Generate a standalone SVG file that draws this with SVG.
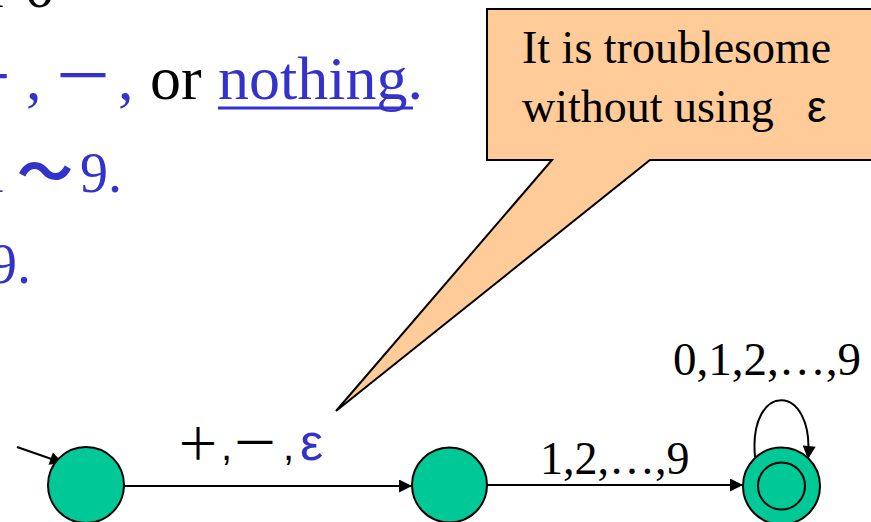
<svg xmlns="http://www.w3.org/2000/svg" width="871" height="522" viewBox="0 0 871 522">
<style>
.serif{font-family:"Liberation Serif","Times New Roman",serif;}
.sans{font-family:"Liberation Sans",Arial,sans-serif;}
.cjk{font-family:"Noto Sans CJK SC",sans-serif;}
.blue{fill:#3333CC;}
.blk{fill:#000;}
.state{fill:#00C896;stroke:#000;stroke-width:2;}
.edge{fill:none;stroke:#000;stroke-width:2;}
</style>
<defs>
<marker id="arrL" viewBox="0 0 10 10" refX="10" refY="5" markerWidth="18" markerHeight="13" markerUnits="userSpaceOnUse" orient="auto">
<path d="M0,0 L10,5 L0,10 z" fill="#000"/>
</marker>
</defs>
<rect width="871" height="522" fill="#fff"/>

<g id="slide-text">
<text class="serif blk" x="-12" y="7" font-size="62">r 0</text>
<text class="cjk blue" x="-45" y="99" font-size="60">＋</text>
<text class="serif blue" x="26" y="99" font-size="62">,</text>
<text class="cjk blue" x="52" y="99" font-size="62">－</text>
<text class="serif blue" x="118" y="99" font-size="62">,</text>
<text class="serif blk" x="150" y="99" font-size="62">or</text>
<text class="serif blue" x="218" y="99" font-size="62">nothing.</text>
<line x1="218" y1="108" x2="413" y2="108" stroke="#3333CC" stroke-width="3"/>
<text class="serif blue" x="-22" y="192" font-size="56">1</text>
<text class="cjk blue" x="17" y="192" font-size="56" font-weight="bold">～</text>
<text class="serif blue" x="80" y="192" font-size="56">9.</text>
<text class="serif blue" x="-11" y="283" font-size="56">9.</text>
</g>

<g id="callout">
<path d="M487,9 L875,9 L875,160 L650,160 L336,411 L552,160 L487,160 Z" fill="#FFCC99" stroke="#000" stroke-width="2"/>
<text class="serif blk" x="522" y="63" font-size="46">It is troublesome</text>
<text class="serif blk" x="522" y="122" font-size="46">without using</text>
<text class="sans blk" x="807" y="122" font-size="44">ε</text>
</g>

<g id="connectors">
<line class="edge" x1="17" y1="447" x2="63" y2="463" marker-end="url(#arrL)"/>
<line class="edge" x1="124" y1="486" x2="412" y2="486" marker-end="url(#arrL)"/>
<line class="edge" x1="487" y1="485" x2="743" y2="485" marker-end="url(#arrL)"/>
<path class="edge" d="M755,457 C748,381 815,381 808,459" marker-end="url(#arrL)"/>
<text class="cjk blk" x="176" y="460" font-size="44">＋</text>
<text class="sans blk" x="221" y="460" font-size="40">,</text>
<text class="cjk blk" x="231" y="460" font-size="48">－</text>
<text class="sans blk" x="283" y="460" font-size="40">,</text>
<text class="sans blue" x="300" y="460" font-size="52">ε</text>
<text class="serif blk" x="540" y="474" font-size="46">1,2,…,9</text>
<text class="serif blk" x="673" y="375" font-size="47">0,1,2,…,9</text>
</g>

<g id="s0">
<circle class="state" cx="86" cy="485" r="38"/>
</g>
<g id="s1">
<circle class="state" cx="449.5" cy="485" r="37.5"/>
</g>
<g id="s2">
<circle class="state" cx="781.5" cy="486" r="38.5"/>
<circle cx="781.5" cy="486" r="23.5" fill="none" stroke="#000" stroke-width="2"/>
</g>
</svg>
